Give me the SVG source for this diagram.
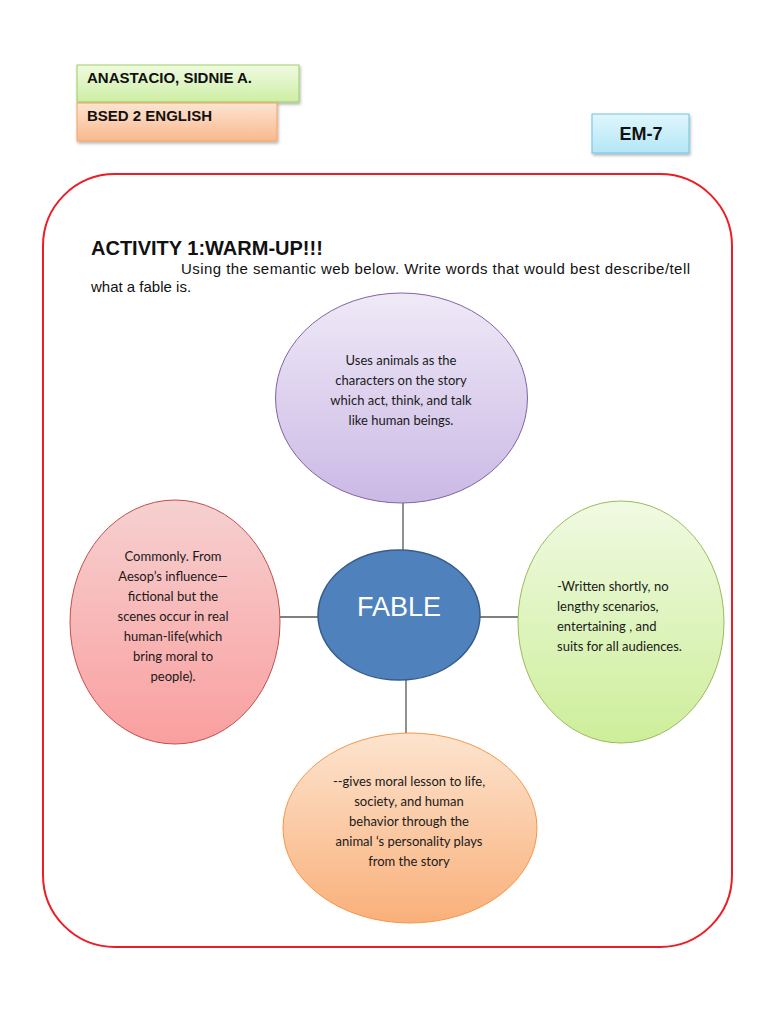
<svg xmlns="http://www.w3.org/2000/svg" width="768" height="1024" viewBox="0 0 768 1024">
<style>
.lbl{font-family:"Liberation Sans",Arial,sans-serif;font-weight:bold;fill:#111;}
.body{font-family:"Liberation Sans",Arial,sans-serif;font-size:15px;fill:#111;}
.nt{font-family:Lato,"Open Sans",sans-serif;font-size:13px;fill:#1a1a1a;}
.conn{stroke:#555;stroke-width:1.3;fill:none;}
</style>
<defs>
<filter id="sh" x="-20%" y="-20%" width="140%" height="150%"><feDropShadow dx="1" dy="2" stdDeviation="1.5" flood-color="#000" flood-opacity="0.3"/></filter>
<linearGradient id="gGreen" x1="0" y1="0" x2="0" y2="1"><stop offset="0" stop-color="#effbe0"/><stop offset="1" stop-color="#cdeea4"/></linearGradient>
<linearGradient id="gOrange" x1="0" y1="0" x2="0" y2="1"><stop offset="0" stop-color="#fde4d2"/><stop offset="1" stop-color="#f9b98d"/></linearGradient>
<linearGradient id="gBlue" x1="0" y1="0" x2="0" y2="1"><stop offset="0" stop-color="#e0f6fc"/><stop offset="1" stop-color="#b3e6f7"/></linearGradient>
<linearGradient id="gPurple" x1="0" y1="0" x2="0" y2="1"><stop offset="0" stop-color="#efe9f7"/><stop offset="1" stop-color="#cbb9e5"/></linearGradient>
<linearGradient id="gRed" x1="0" y1="0" x2="0" y2="1"><stop offset="0" stop-color="#f6d0d0"/><stop offset="1" stop-color="#fa9f9f"/></linearGradient>
<linearGradient id="gLime" x1="0" y1="0" x2="0" y2="1"><stop offset="0" stop-color="#f0fae2"/><stop offset="1" stop-color="#cdee9a"/></linearGradient>
<linearGradient id="gPeach" x1="0" y1="0" x2="0" y2="1"><stop offset="0" stop-color="#fde4cf"/><stop offset="1" stop-color="#f9b07a"/></linearGradient>
</defs>
<rect width="768" height="1024" fill="#fff"/>

<g id="name">
<rect x="77" y="65" width="222" height="37" fill="url(#gGreen)" stroke="#9bcf63" stroke-width="1" filter="url(#sh)"/>
<text class="lbl" x="87" y="83" font-size="15">ANASTACIO, SIDNIE A.</text>
</g>
<g id="course">
<rect x="77" y="103" width="200" height="38" fill="url(#gOrange)" stroke="#f4a261" stroke-width="1" filter="url(#sh)"/>
<text class="lbl" x="87" y="121" font-size="15">BSED 2 ENGLISH</text>
</g>
<g id="code">
<rect x="592" y="114" width="97" height="39" fill="url(#gBlue)" stroke="#6cc4e4" stroke-width="1" filter="url(#sh)"/>
<text class="lbl" x="641" y="140" font-size="18" text-anchor="middle">EM-7</text>
</g>

<rect x="43" y="174" width="689" height="773" rx="72" ry="72" fill="none" stroke="#ee1c25" stroke-width="2"/>

<text class="lbl" x="91" y="255" font-size="20">ACTIVITY 1:WARM-UP!!!</text>
<text class="body" x="181" y="274" textLength="509" lengthAdjust="spacing">Using the semantic web below. Write words that would best describe/tell</text>
<text class="body" x="91" y="292">what a fable is.</text>

<g id="connectors">
<line class="conn" x1="403" y1="503" x2="403" y2="550"/>
<line class="conn" x1="280" y1="617" x2="318" y2="617"/>
<line class="conn" x1="480" y1="617" x2="518" y2="617"/>
<line class="conn" x1="406" y1="680" x2="406" y2="733"/>
</g>

<g id="top">
<ellipse cx="401.5" cy="398" rx="126" ry="105" fill="url(#gPurple)" stroke="#8064a2" stroke-width="1"/>
<text class="nt" text-anchor="middle"><tspan x="401" y="365">Uses animals as the</tspan><tspan x="401" y="385">characters on the story</tspan><tspan x="401" y="405">which act, think, and talk</tspan><tspan x="401" y="425">like human beings.</tspan></text>
</g>

<g id="left">
<ellipse cx="175" cy="622" rx="105" ry="122" fill="url(#gRed)" stroke="#c0504d" stroke-width="1"/>
<text class="nt" text-anchor="middle"><tspan x="173" y="561">Commonly. From</tspan><tspan x="173" y="581">Aesop’s influence—</tspan><tspan x="173" y="601">fictional but the</tspan><tspan x="173" y="621">scenes occur in real</tspan><tspan x="173" y="641">human-life(which</tspan><tspan x="173" y="661">bring moral to</tspan><tspan x="173" y="681">people).</tspan></text>
</g>

<g id="right">
<ellipse cx="621" cy="622" rx="103" ry="121" fill="url(#gLime)" stroke="#9bbb59" stroke-width="1"/>
<text class="nt"><tspan x="557" y="591">-Written shortly, no</tspan><tspan x="557" y="611">lengthy scenarios,</tspan><tspan x="557" y="631">entertaining , and</tspan><tspan x="557" y="651">suits for all audiences.</tspan></text>
</g>

<g id="bottom">
<ellipse cx="410" cy="828" rx="127" ry="95" fill="url(#gPeach)" stroke="#f79646" stroke-width="1"/>
<text class="nt" text-anchor="middle"><tspan x="409" y="786">--gives moral lesson to life,</tspan><tspan x="409" y="806">society, and human</tspan><tspan x="409" y="826">behavior through the</tspan><tspan x="409" y="846">animal ‘s personality plays</tspan><tspan x="409" y="866">from the story</tspan></text>
</g>

<g id="fable">
<ellipse cx="399" cy="615" rx="81" ry="65" fill="#4f81bd" stroke="#385d8a" stroke-width="1.5"/>
<text x="399" y="616" font-family="Liberation Sans,Arial,sans-serif" font-size="27" fill="#fff" text-anchor="middle">FABLE</text>
</g>
</svg>
